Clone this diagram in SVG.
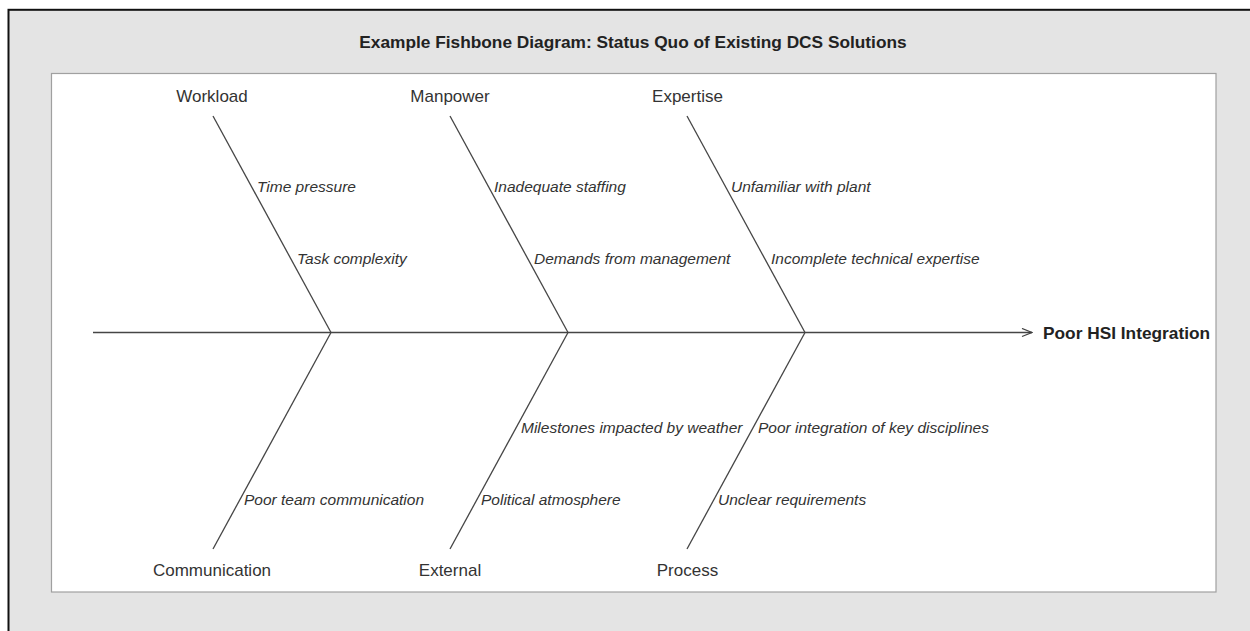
<svg xmlns="http://www.w3.org/2000/svg" width="1250" height="631" viewBox="0 0 1250 631">
  <defs>
    <marker id="arrow" viewBox="0 0 12 10" refX="11" refY="5" markerWidth="12" markerHeight="10" markerUnits="userSpaceOnUse" orient="auto">
      <path d="M1,1 L11,5 L1,9" fill="none" stroke="#404040" stroke-width="1.3"/>
    </marker>
  </defs>
  <style>
    .bone { stroke: #454545; stroke-width: 1.3; fill: none; }
    .cat { font-family: "Liberation Sans", Arial, sans-serif; font-size: 17px; fill: #333; text-anchor: middle; }
    .sub { font-family: "Liberation Sans", Arial, sans-serif; font-size: 15.5px; font-style: italic; fill: #333; }
    .title { font-family: "Liberation Sans", Arial, sans-serif; font-size: 17.3px; font-weight: bold; fill: #222; }
  </style>
  <rect x="0" y="0" width="1250" height="631" fill="#ffffff"/>
  <rect x="8.5" y="9.8" width="1260" height="640" fill="#e4e4e4" stroke="#111" stroke-width="2"/>
  <rect x="51.5" y="73.5" width="1164.5" height="518.5" fill="#ffffff" stroke="#a0a0a0" stroke-width="1.2"/>
  <text class="title" x="633" y="48" text-anchor="middle">Example Fishbone Diagram: Status Quo of Existing DCS Solutions</text>

  <g id="connectors">
    <line class="bone" x1="93" y1="332.5" x2="1032" y2="332.5" marker-end="url(#arrow)"/>
    <line class="bone" x1="213" y1="116" x2="331" y2="332.5"/>
    <line class="bone" x1="450" y1="116" x2="568" y2="332.5"/>
    <line class="bone" x1="687" y1="116" x2="805" y2="332.5"/>
    <line class="bone" x1="331" y1="332.5" x2="213" y2="549"/>
    <line class="bone" x1="568" y1="332.5" x2="450" y2="549"/>
    <line class="bone" x1="805" y1="332.5" x2="687" y2="549"/>
  </g>

  <g id="effect">
    <text class="title" x="1043" y="339">Poor HSI Integration</text>
  </g>

  <g id="workload">
    <text class="cat" x="212" y="101.5">Workload</text>
    <text class="sub" x="257" y="192">Time pressure</text>
    <text class="sub" x="297" y="264">Task complexity</text>
  </g>
  <g id="manpower">
    <text class="cat" x="450" y="101.5">Manpower</text>
    <text class="sub" x="494" y="192">Inadequate staffing</text>
    <text class="sub" x="534" y="264">Demands from management</text>
  </g>
  <g id="expertise">
    <text class="cat" x="687.5" y="101.5">Expertise</text>
    <text class="sub" x="731" y="192">Unfamiliar with plant</text>
    <text class="sub" x="771" y="264">Incomplete technical expertise</text>
  </g>
  <g id="communication">
    <text class="cat" x="212" y="576">Communication</text>
    <text class="sub" x="244" y="505">Poor team communication</text>
  </g>
  <g id="external">
    <text class="cat" x="450" y="576">External</text>
    <text class="sub" x="521" y="433">Milestones impacted by weather</text>
    <text class="sub" x="481" y="505">Political atmosphere</text>
  </g>
  <g id="process">
    <text class="cat" x="687.5" y="576">Process</text>
    <text class="sub" x="758" y="433">Poor integration of key disciplines</text>
    <text class="sub" x="718" y="505">Unclear requirements</text>
  </g>
</svg>
